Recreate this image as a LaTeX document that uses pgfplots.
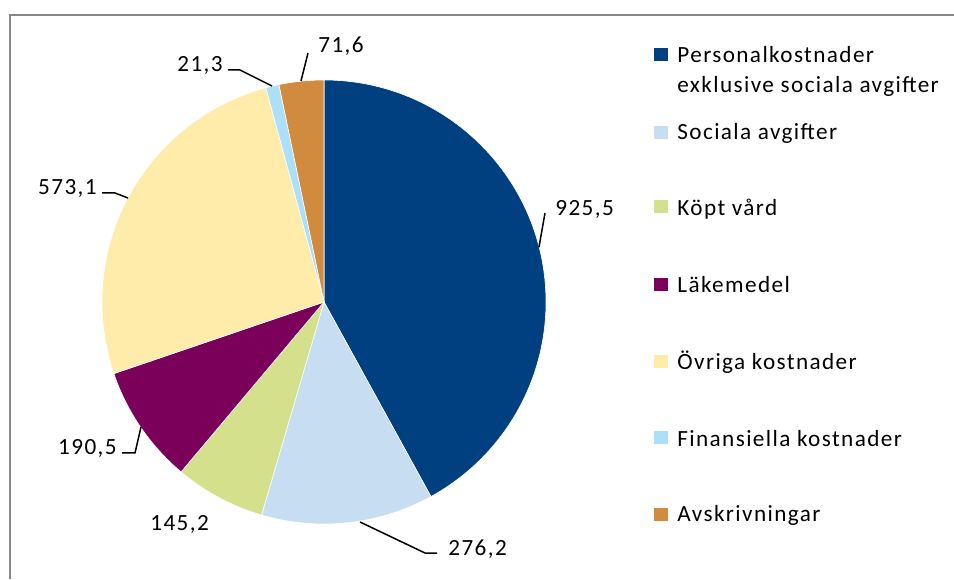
\documentclass[border=0pt]{standalone}
\usepackage{fontspec}
\setmainfont{Carlito}[LetterSpace=6]
\usepackage{pgfplots}
\usepackage{pgfplotstable}
\pgfplotsset{compat=1.18}

\definecolor{c0}{RGB}{0,64,128}
\definecolor{c1}{RGB}{198,221,242}
\definecolor{c2}{RGB}{212,224,140}
\definecolor{c3}{RGB}{122,0,90}
\definecolor{c4}{RGB}{255,235,170}
\definecolor{c5}{RGB}{171,224,248}
\definecolor{c6}{RGB}{209,139,62}
\definecolor{framegray}{RGB}{134,134,134}

% pie data: value, legend square centre (y, axis units)
\pgfplotstableread{
idx value legy
0 925.5 524.5
1 276.2 446.5
2 145.2 372
3 190.5 294
4 573.1 217
5 21.3 141
6 71.6 65
}\piedata

\def\total{0}
\pgfplotsforeachungrouped \i in {0,...,6}{%
  \pgfplotstablegetelem{\i}{value}\of\piedata
  \pgfmathsetmacro\total{\total+\pgfplotsretval}%
}
\def\cum{0}
\pgfplotsforeachungrouped \i in {0,...,6}{%
  \pgfplotstablegetelem{\i}{value}\of\piedata
  \pgfmathsetmacro\a{90-360*(\cum/\total)}%
  \pgfmathsetmacro\cum{\cum+\pgfplotsretval}%
  \pgfmathsetmacro\b{90-360*(\cum/\total)}%
  \expandafter\xdef\csname sA\i\endcsname{\a}%
  \expandafter\xdef\csname sB\i\endcsname{\b}%
  \pgfplotstablegetelem{\i}{legy}\of\piedata
  \expandafter\xdef\csname LY\i\endcsname{\pgfplotsretval}%
}
\newcommand\sA[1]{\csname sA#1\endcsname}
\newcommand\sB[1]{\csname sB#1\endcsname}
\newcommand\LY[1]{\csname LY#1\endcsname}

\begin{document}
\fontsize{11.6}{14}\selectfont
\begin{tikzpicture}
\begin{axis}[
  scale only axis,
  width=477pt, height=289.5pt,
  xmin=0, xmax=954, ymin=0, ymax=579,
  hide axis,
]
\path (axis cs:0,0) rectangle (axis cs:954,579);
% frame
\draw[framegray, line width=1pt] (axis cs:9.5,0) -- (axis cs:9.5,563.5) -- (axis cs:954,563.5);
% slices
\pgfplotsinvokeforeach{0,...,6}{
  \filldraw[fill=c#1, draw=white, line width=0.3pt]
    (axis cs:324,277) -- +(\sA{#1}:111pt)
    arc[start angle=\sA{#1}, end angle=\sB{#1}, radius=111pt] -- cycle;
  \fill[c#1] (axis cs:654,{\LY{#1}-6.5}) rectangle (axis cs:668,{\LY{#1}+6.5});
}
% leader lines
\begin{scope}[line width=0.75pt, black]
\draw (axis cs:545,366) -- (axis cs:539,332);
\draw (axis cs:360,57) -- (axis cs:425,26) -- (axis cs:437,26);
\draw (axis cs:122,126) -- (axis cs:135,126) -- (axis cs:141,152);
\draw (axis cs:102,386) -- (axis cs:115,386) -- (axis cs:128,381);
\draw (axis cs:228,509) -- (axis cs:240,509) -- (axis cs:272,493);
\draw (axis cs:301,498) -- (axis cs:308,526);
\end{scope}
% data labels
\node[anchor=base west, inner sep=0pt] at (axis cs:555,363) {925,5};
\node[anchor=base west, inner sep=0pt] at (axis cs:448,24) {276,2};
\node[anchor=base west, inner sep=0pt] at (axis cs:150,48) {145,2};
\node[anchor=base east, inner sep=0pt] at (axis cs:117,124) {190,5};
\node[anchor=base east, inner sep=0pt] at (axis cs:97,384) {573,1};
\node[anchor=base east, inner sep=0pt] at (axis cs:223,507) {21,3};
\node[anchor=base west, inner sep=0pt] at (axis cs:318,526) {71,6};
% legend texts
\node[anchor=base west, inner sep=0pt] at (axis cs:677,516) {Personalkostnader};
\node[anchor=base west, inner sep=0pt] at (axis cs:677,486) {exklusive sociala avgifter};
\node[anchor=base west, inner sep=0pt] at (axis cs:677,439) {Sociala avgifter};
\node[anchor=base west, inner sep=0pt] at (axis cs:677,363) {Köpt vård};
\node[anchor=base west, inner sep=0pt] at (axis cs:677,286) {Läkemedel};
\node[anchor=base west, inner sep=0pt] at (axis cs:677,209) {Övriga kostnader};
\node[anchor=base west, inner sep=0pt] at (axis cs:677,133) {Finansiella kostnader};
\node[anchor=base west, inner sep=0pt] at (axis cs:677,57) {Avskrivningar};
\end{axis}
\end{tikzpicture}
\end{document}
